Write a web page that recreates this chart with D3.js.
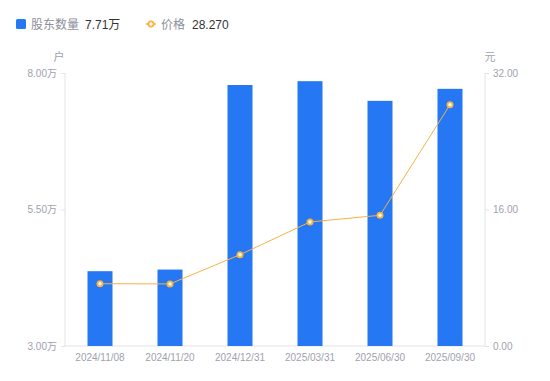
<!DOCTYPE html>
<html>
<head>
<meta charset="utf-8">
<script src="https://cdn.jsdelivr.net/npm/d3@7"></script>
<style>
html,body{margin:0;padding:0;background:#fff;}
svg{display:block;font-family:"Liberation Sans","Noto Sans CJK SC",sans-serif;}
</style>
</head>
<body>
<svg id="chart" width="550" height="381"></svg>
<script>
const categories = ["2024/11/08","2024/11/20","2024/12/31","2025/03/31","2025/06/30","2025/09/30"];
const holders = [4.37, 4.40, 7.78, 7.85, 7.49, 7.71];   // 万户
const prices = [7.30, 7.28, 10.70, 14.54, 15.32, 28.27]; // 元
const leftTicks = [3.00, 5.50, 8.00];
const rightTicks = [0, 16, 32];
const legendNames = ["股东数量", "价格"];
const legendValues = ["7.71万", "28.270"];

const barColor = "#2577F3";
const lineColor = "#F7B240";
const axisColor = "#E3E3E6";
const labelColor = "#A0A1AD";
const fontStack = "'Liberation Sans','Noto Sans CJK SC',sans-serif";

const svg = d3.select("#chart");
const pL = 65, pR = 485, pT = 73, pB = 346;

const x = d3.scaleBand().domain(categories).range([pL, pR]).paddingInner(0).paddingOuter(0);
const yL = d3.scaleLinear().domain([3, 8]).range([pB, pT]);
const yR = d3.scaleLinear().domain([0, 32]).range([pB, pT]);

// axes
const gL = svg.append("g").attr("transform", `translate(${pL},0)`)
  .call(d3.axisLeft(yL).tickValues(leftTicks).tickSize(4).tickPadding(4).tickFormat(d => d3.format(".2f")(d) + "万"));
const gR = svg.append("g").attr("transform", `translate(${pR},0)`)
  .call(d3.axisRight(yR).tickValues(rightTicks).tickSize(4).tickPadding(4).tickFormat(d3.format(".2f")));
const gB = svg.append("g").attr("transform", `translate(0,${pB})`)
  .call(d3.axisBottom(x).tickSize(0).tickPadding(8));

[gL, gR, gB].forEach(g => {
  g.selectAll("path.domain").attr("stroke", axisColor);
  g.selectAll(".tick line").attr("stroke", axisColor);
  g.selectAll("text").attr("fill", labelColor).style("font-size", "10px")
    .style("font-family", fontStack);
});
gB.selectAll("path.domain").attr("d", `M${pL},0H${pR}`);
gL.selectAll("path.domain").attr("d", `M0,${pB}V${pT}`);
gR.selectAll("path.domain").attr("d", `M0,${pB}V${pT}`);

// units
svg.append("text").attr("x", 59).attr("y", 61).attr("text-anchor", "middle")
  .attr("fill", labelColor).style("font-size", "11px").text("户");
svg.append("text").attr("x", 490).attr("y", 61).attr("text-anchor", "middle")
  .attr("fill", labelColor).style("font-size", "11px").text("元");

// bars
const bw = 25;
svg.append("g").selectAll("rect").data(categories).join("rect")
  .attr("x", d => x(d) + x.bandwidth() / 2 - bw / 2)
  .attr("y", (d, i) => yL(holders[i]))
  .attr("width", bw)
  .attr("height", (d, i) => pB - yL(holders[i]))
  .attr("fill", barColor);

// line
const pts = categories.map((c, i) => [x(c) + x.bandwidth() / 2, yR(prices[i])]);
svg.append("path").attr("d", d3.line()(pts)).attr("fill", "none")
  .attr("stroke", lineColor).attr("stroke-width", 1);
svg.append("g").selectAll("circle").data(pts).join("circle")
  .attr("cx", d => d[0]).attr("cy", d => d[1]).attr("r", 2.6)
  .attr("fill", "#fff").attr("stroke", lineColor).attr("stroke-width", 1.8);

// legend
const lg = svg.append("g").style("font-family", fontStack);
lg.append("rect").attr("x", 16).attr("y", 19).attr("width", 10).attr("height", 10).attr("rx", 1.5).attr("fill", barColor);
lg.append("text").attr("x", 31).attr("y", 29).attr("fill", "#8E8F9B").style("font-size", "12px").text(legendNames[0]);
lg.append("text").attr("x", 85).attr("y", 29).attr("fill", "#333").style("font-size", "12px").text(legendValues[0]);
lg.append("line").attr("x1", 146).attr("x2", 156).attr("y1", 24).attr("y2", 24).attr("stroke", lineColor).attr("stroke-width", 1.5);
lg.append("circle").attr("cx", 151).attr("cy", 24).attr("r", 2.6).attr("fill", "#fff").attr("stroke", lineColor).attr("stroke-width", 1.8);
lg.append("text").attr("x", 161).attr("y", 29).attr("fill", "#8E8F9B").style("font-size", "12px").text(legendNames[1]);
lg.append("text").attr("x", 192).attr("y", 29).attr("fill", "#333").style("font-size", "12px").text(legendValues[1]);
</script>
</body>
</html>
